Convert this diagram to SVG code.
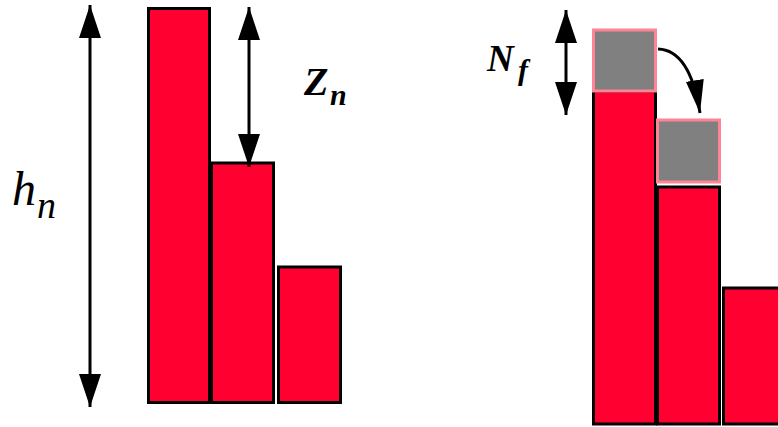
<svg xmlns="http://www.w3.org/2000/svg" width="778" height="427" viewBox="0 0 778 427">
<style>
.bar{fill:#ff0030;stroke:#000;stroke-width:3}
.grain{fill:#808080;stroke:#ff8496;stroke-width:3}
.conn{fill:none;stroke:#000;stroke-width:3}
</style>
<defs>
<marker id="ah" viewBox="0 0 33 22" refX="33" refY="11" markerWidth="33" markerHeight="22" markerUnits="userSpaceOnUse" orient="auto-start-reverse">
<path d="M0,0 L33,11 L0,22 z" fill="#000"/>
</marker>
<marker id="ah2" viewBox="0 0 33 18" refX="33" refY="9" markerWidth="33" markerHeight="18" markerUnits="userSpaceOnUse" orient="auto">
<path d="M0,0 L33,9 L0,18 z" fill="#000"/>
</marker>
</defs>
<g id="bar1"><rect class="bar" x="148.5" y="8.5" width="61" height="394"/></g>
<g id="bar2"><rect class="bar" x="211.5" y="163" width="62" height="239.5"/></g>
<g id="bar3"><rect class="bar" x="278.5" y="267" width="62" height="135.5"/></g>
<g id="rbar1"><rect class="bar" x="593.5" y="91" width="62" height="333"/></g>
<g id="rbar2"><rect class="bar" x="657.5" y="187" width="62" height="237"/></g>
<g id="rbar3"><rect class="bar" x="723.5" y="288" width="62" height="136"/></g>
<g id="grain1"><rect class="grain" x="593.5" y="30" width="62" height="61"/></g>
<g id="grain2"><rect class="grain" x="657.5" y="120" width="62" height="62"/></g>
<g id="connectors">
<line class="conn" x1="90" y1="5" x2="90" y2="407" marker-start="url(#ah)" marker-end="url(#ah)"/>
<line class="conn" x1="249" y1="7" x2="249" y2="167" marker-start="url(#ah)" marker-end="url(#ah)"/>
<line class="conn" x1="566" y1="10" x2="566" y2="115" marker-start="url(#ah)" marker-end="url(#ah)"/>
<path class="conn" d="M658,49 Q690,50 700,113" marker-end="url(#ah2)"/>
</g>
<g id="labels" font-family="Liberation Serif, DejaVu Serif, serif" font-style="italic" fill="#000">
<text x="12" y="205" font-size="48">h</text>
<text x="37" y="218" font-size="38">n</text>
<text x="304" y="95" font-size="40" font-weight="bold">Z</text>
<text x="330" y="105" font-size="30" font-weight="bold">n</text>
<text x="487" y="71" font-size="37" font-weight="bold">N</text>
<text x="518" y="80" font-size="30" font-weight="bold">f</text>
</g>
</svg>
